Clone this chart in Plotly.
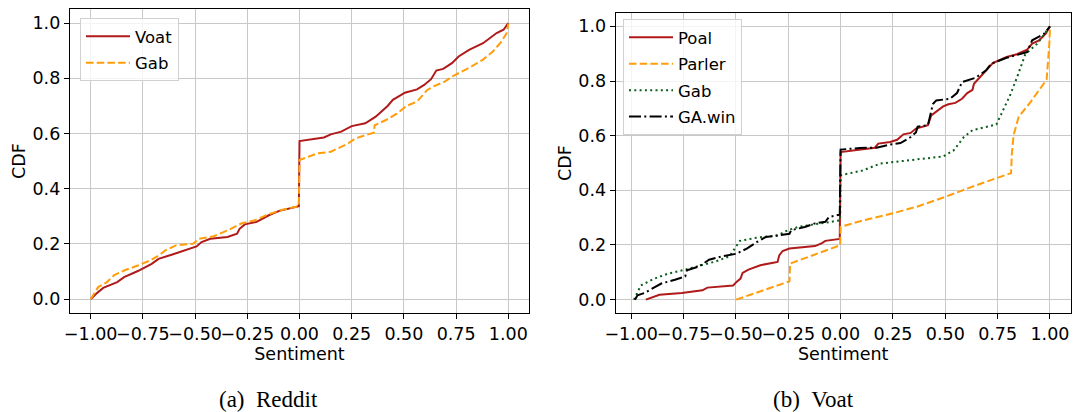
import plotly.graph_objects as go

# ---------------- data: (a) Reddit ----------------
reddit_voat_x = [-1.0, -0.975, -0.94, -0.873, -0.84, -0.774, -0.708, -0.675, -0.609, -0.543, -0.493, -0.469,
                 -0.427, -0.345, -0.299, -0.287, -0.262, -0.205, -0.147, -0.097, -0.003, 0.0, 0.066, 0.117,
                 0.15, 0.2, 0.25, 0.3, 0.315, 0.365, 0.398, 0.422, 0.447, 0.48, 0.505, 0.563, 0.597, 0.63,
                 0.655, 0.688, 0.73, 0.762, 0.812, 0.879, 0.912, 0.944, 0.977, 1.0]
reddit_voat_y = [0.0, 0.019, 0.041, 0.062, 0.08, 0.102, 0.128, 0.146, 0.162, 0.177, 0.191, 0.207,
                 0.219, 0.225, 0.237, 0.255, 0.271, 0.28, 0.304, 0.32, 0.337, 0.573, 0.579, 0.586,
                 0.597, 0.607, 0.627, 0.634, 0.637, 0.661, 0.685, 0.7, 0.722, 0.736, 0.748, 0.76, 0.776, 0.797,
                 0.828, 0.834, 0.855, 0.879, 0.903, 0.927, 0.945, 0.964, 0.976, 1.0]

reddit_gab_x = [-1.0, -0.964, -0.922, -0.889, -0.84, -0.774, -0.708, -0.667, -0.642, -0.592, -0.51, -0.48,
                -0.411, -0.345, -0.279, -0.213, -0.147, -0.081, -0.003, 0.0, 0.084, 0.15, 0.233, 0.266,
                0.315, 0.356, 0.36, 0.414, 0.464, 0.513, 0.563, 0.612, 0.645, 0.695, 0.744, 0.81, 0.877,
                0.926, 0.967, 0.992, 1.0]
reddit_gab_y = [0.0, 0.044, 0.062, 0.086, 0.104, 0.122, 0.143, 0.162, 0.177, 0.195, 0.201, 0.219,
                0.228, 0.249, 0.274, 0.286, 0.308, 0.324, 0.337, 0.504, 0.528, 0.534, 0.564, 0.582,
                0.594, 0.603, 0.63, 0.649, 0.671, 0.7, 0.716, 0.758, 0.772, 0.788, 0.812, 0.837, 0.867,
                0.897, 0.933, 0.964, 0.998]

# ---------------- data: (b) Voat ----------------
voat_poal_x = [-0.93, -0.865, -0.758, -0.66, -0.636, -0.562, -0.513, -0.497, -0.478, -0.468, -0.44, -0.383,
               -0.301, -0.293, -0.277, -0.244, -0.203, -0.122, -0.089, -0.073, -0.004, 0.0, 0.107, 0.164,
               0.18, 0.237, 0.27, 0.3, 0.335, 0.36, 0.417, 0.433, 0.49, 0.515, 0.548, 0.58, 0.605, 0.63,
               0.637, 0.662, 0.703, 0.727, 0.793, 0.842, 0.891, 0.915, 0.948, 0.98, 1.0]
voat_poal_y = [0.0, 0.018, 0.024, 0.034, 0.044, 0.049, 0.052, 0.065, 0.077, 0.098, 0.11, 0.126,
               0.138, 0.162, 0.178, 0.187, 0.19, 0.196, 0.207, 0.215, 0.222, 0.54, 0.55, 0.556,
               0.571, 0.577, 0.585, 0.605, 0.61, 0.626, 0.638, 0.674, 0.707, 0.715, 0.72, 0.735, 0.756, 0.768,
               0.79, 0.812, 0.846, 0.866, 0.888, 0.898, 0.915, 0.937, 0.949, 0.973, 1.0]

voat_parler_x = [-0.499, -0.244, -0.241, -0.002, 0.0, 0.107, 0.254, 0.368, 0.499, 0.58, 0.678, 0.814,
                 0.818, 0.826, 0.85, 0.907, 0.984, 0.997, 1.0]
voat_parler_y = [0.0, 0.067, 0.132, 0.199, 0.266, 0.29, 0.317, 0.341, 0.376, 0.4, 0.427, 0.463,
                 0.534, 0.601, 0.668, 0.723, 0.805, 0.937, 0.991]

voat_gab_x = [-0.987, -0.97, -0.954, -0.889, -0.824, -0.742, -0.66, -0.595, -0.53, -0.505, -0.481, -0.399,
              -0.301, -0.252, -0.203, -0.122, -0.056, -0.002, 0.0, 0.107, 0.189, 0.27, 0.368, 0.49,
              0.54, 0.589, 0.63, 0.744, 0.768, 0.809, 0.842, 0.866, 0.882, 0.94, 1.0]
voat_gab_y = [0.0, 0.028, 0.052, 0.077, 0.095, 0.11, 0.126, 0.14, 0.159, 0.187, 0.215, 0.227,
              0.235, 0.254, 0.266, 0.276, 0.284, 0.29, 0.455, 0.473, 0.498, 0.505, 0.512, 0.524,
              0.546, 0.595, 0.62, 0.641, 0.68, 0.747, 0.812, 0.867, 0.898, 0.937, 1.0]

voat_gawin_x = [-0.982, -0.97, -0.938, -0.905, -0.856, -0.791, -0.742, -0.734, -0.677, -0.628, -0.562, -0.497,
                -0.448, -0.399, -0.358, -0.301, -0.244, -0.236, -0.171, -0.122, -0.073, -0.056, -0.004, 0.0,
                0.091, 0.172, 0.237, 0.286, 0.335, 0.36, 0.368, 0.417, 0.425, 0.441, 0.457, 0.523, 0.556,
                0.58, 0.645, 0.695, 0.719, 0.793, 0.891, 0.915, 0.972, 1.0]
voat_gawin_y = [0.0, 0.016, 0.024, 0.037, 0.059, 0.073, 0.085, 0.107, 0.121, 0.146, 0.159, 0.168,
                0.187, 0.211, 0.229, 0.235, 0.241, 0.254, 0.266, 0.279, 0.285, 0.302, 0.311, 0.549,
                0.555, 0.556, 0.568, 0.573, 0.595, 0.612, 0.633, 0.638, 0.668, 0.716, 0.729, 0.735, 0.756,
                0.796, 0.812, 0.839, 0.863, 0.885, 0.906, 0.949, 0.973, 1.0]

x_ticks = [-1.0, -0.75, -0.5, -0.25, 0.0, 0.25, 0.5, 0.75, 1.0]
y_ticks = [0.0, 0.2, 0.4, 0.6, 0.8, 1.0]
captions = ["(a)\u00a0\u00a0Reddit", "(b)\u00a0\u00a0Voat"]

# ---------------- styles ----------------
RED = "#b01a1a"
ORANGE = "#ff9d0a"
GREEN = "#0a5e1a"
BLACK = "#000000"
FONT = "DejaVu Sans"
FS = 17.5
W, H = 1073, 412

fig = go.Figure()

def add(x, y, name, color, dash, xa, ya, legend):
    fig.add_trace(go.Scatter(
        x=x, y=y, mode="lines", name=name, xaxis=xa, yaxis=ya,
        line=dict(color=color, width=2, dash=dash),
        legend=legend, legendgroup=legend + "_" + name,
    ))

add(reddit_voat_x, reddit_voat_y, "Voat", RED, "solid", "x", "y", "legend")
add(reddit_gab_x, reddit_gab_y, "Gab", ORANGE, "7.5px,3.2px", "x", "y", "legend")
add(voat_poal_x, voat_poal_y, "Poal", RED, "solid", "x2", "y2", "legend2")
add(voat_parler_x, voat_parler_y, "Parler", ORANGE, "7.5px,3.2px", "x2", "y2", "legend2")
add(voat_gab_x, voat_gab_y, "Gab", GREEN, "2px,3.3px", "x2", "y2", "legend2")
add(voat_gawin_x, voat_gawin_y, "GA.win", BLACK, "12px,3.3px,2px,3.3px", "x2", "y2", "legend2")

def xaxis(domain, rng):
    return dict(domain=domain, range=rng, tickvals=x_ticks, tickformat=".2f", tickangle=0,
                automargin=False,
                showline=True, mirror=True, linecolor="black", linewidth=1,
                ticks="outside", ticklen=5, tickcolor="black", tickwidth=1,
                showgrid=True, gridcolor="#c8c8c8", gridwidth=1, zeroline=False,
                tickfont=dict(family=FONT, size=FS, color="black"),
                title=dict(text="Sentiment", font=dict(family=FONT, size=FS, color="black"), standoff=2))

def yaxis(domain, anchor):
    return dict(domain=domain, range=[-0.05, 1.05], tickvals=y_ticks, tickformat=".1f", anchor=anchor,
                automargin=False,
                showline=True, mirror=True, linecolor="black", linewidth=1,
                ticks="outside", ticklen=5, tickcolor="black", tickwidth=1,
                showgrid=True, gridcolor="#c8c8c8", gridwidth=1, zeroline=False,
                tickfont=dict(family=FONT, size=FS, color="black"),
                title=dict(text="CDF", font=dict(family=FONT, size=FS, color="black"), standoff=2))

x1d = [69.8 / W, 529.2 / W]
x2d = [615.7 / W, 1070.7 / W]
y1d = [1 - 313.0 / H, 1 - 9.3 / H]
y2d = [1 - 313.3 / H, 1 - 12.7 / H]

legend_style = dict(bgcolor="rgba(255,255,255,0.8)", bordercolor="#d0d0d0", borderwidth=1,
                    font=dict(family=FONT, size=16.5, color="black"), tracegroupgap=2,
                    xanchor="left", yanchor="top", itemwidth=44)

fig.update_layout(
    width=W, height=H, margin=dict(l=0, r=0, t=0, b=0, autoexpand=False),
    paper_bgcolor="white", plot_bgcolor="white",
    xaxis=dict(xaxis(x1d, [-1.1, 1.1]), anchor="y"),
    yaxis=yaxis(y1d, "x"),
    xaxis2=dict(xaxis(x2d, [-1.074, 1.099]), anchor="y2"),
    yaxis2=yaxis(y2d, "x2"),
    legend=dict(legend_style, x=80 / W, y=1 - 18 / H),
    legend2=dict(legend_style, x=623 / W, y=1 - 19 / H),
    showlegend=True,
    annotations=[
        dict(text=captions[0], x=268 / W, y=1 - 399 / H, xref="paper", yref="paper", showarrow=False,
             xanchor="center", yanchor="middle", font=dict(family="Liberation Serif", size=23, color="black")),
        dict(text=captions[1], x=813 / W, y=1 - 399 / H, xref="paper", yref="paper", showarrow=False,
             xanchor="center", yanchor="middle", font=dict(family="Liberation Serif", size=23, color="black")),
    ],
)

fig.write_html("out.html", config={"displayModeBar": False},
               post_script="document.body.style.margin='0px';document.body.style.overflow='hidden';")
